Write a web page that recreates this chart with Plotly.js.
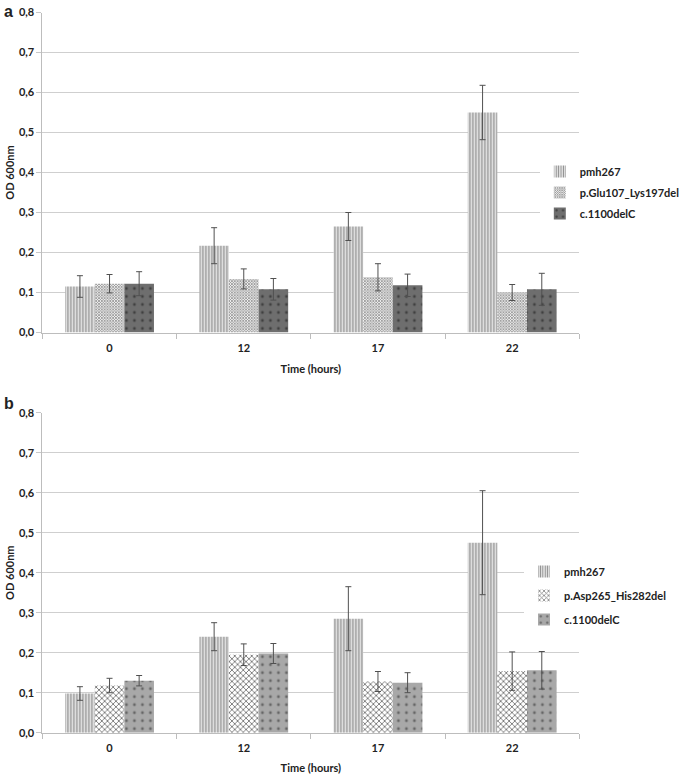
<!DOCTYPE html>
<html>
<head>
<meta charset="utf-8">
<script src="https://cdn.plot.ly/plotly-3.0.1.min.js"></script>
<style>html,body{margin:0;padding:0;background:#fff}#chart{width:685px;height:774px}</style>
</head>
<body>
<div id="chart"></div>
<script>
// ---- data ----
const times = ["0", "12", "17", "22"];

// panel a
const aPmh = [0.115, 0.217, 0.265, 0.550];
const aPmhErr = [0.027, 0.045, 0.035, 0.068];
const aGlu = [0.122, 0.134, 0.138, 0.100];
const aGluErr = [0.023, 0.025, 0.034, 0.020];
const aDel = [0.122, 0.108, 0.118, 0.108];
const aDelErr = [0.030, 0.027, 0.028, 0.040];

// panel b
const bPmh = [0.098, 0.240, 0.285, 0.475];
const bPmhErr = [0.017, 0.035, 0.080, 0.130];
const bAsp = [0.118, 0.195, 0.128, 0.154];
const bAspErr = [0.018, 0.027, 0.025, 0.048];
const bDel = [0.130, 0.198, 0.125, 0.156];
const bDelErr = [0.013, 0.025, 0.025, 0.047];

const namesA = ["pmh267", "p.Glu107_Lys197del", "c.1100delC"];
const namesB = ["pmh267", "p.Asp265_His282del", "c.1100delC"];

// ---- styles ----
const errStyle = {color: "#505050", thickness: 1, width: 3};
const pPmh = {shape: "|", fgcolor: "#8c8c8c", bgcolor: "#e6e6e6", size: 3, solidity: 0.4};
const pGlu = {shape: "x", fgcolor: "#8a8a8a", bgcolor: "#f2f2f2", size: 2, solidity: 0.6};
const pDelA = {shape: ".", fgcolor: "#404040", bgcolor: "#6e6e6e", size: 8, solidity: 0.1};
const pAsp = {shape: "x", fgcolor: "#777777", bgcolor: "#ffffff", size: 4, solidity: 0.4};
const pDelB = {shape: ".", fgcolor: "#666666", bgcolor: "#a8a8a8", size: 8, solidity: 0.1};

function bar(name, y, err, pat, xa, ya, leg, grp) {
  return {
    type: "bar", name: name, x: times, y: y,
    xaxis: xa, yaxis: ya, legend: leg, legendgroup: grp,
    error_y: Object.assign({type: "data", array: err, visible: true}, errStyle),
    marker: {color: pat.bgcolor, line: {width: 0}, pattern: pat}
  };
}

const data = [
  bar(namesA[0], aPmh, aPmhErr, pPmh, "x", "y", "legend", "a1"),
  bar(namesA[1], aGlu, aGluErr, pGlu, "x", "y", "legend", "a2"),
  bar(namesA[2], aDel, aDelErr, pDelA, "x", "y", "legend", "a3"),
  bar(namesB[0], bPmh, bPmhErr, pPmh, "x2", "y2", "legend2", "b1"),
  bar(namesB[1], bAsp, bAspErr, pAsp, "x2", "y2", "legend2", "b2"),
  bar(namesB[2], bDel, bDelErr, pDelB, "x2", "y2", "legend2", "b3")
];

const W = 685, H = 774;
const font = {family: "Lato, 'Open Sans', sans-serif", size: 11, color: "#222"};
const boldFont = Object.assign({}, font, {weight: "bold"});

function xAxis(anchor) {
  return {
    anchor: anchor, domain: [43 / W, 587 / W], type: "category",
    showline: true, linecolor: "#bdbdbd", linewidth: 1,
    ticks: "outside", tickson: "boundaries", ticklen: 5, tickcolor: "#bdbdbd",
    ticklabelstandoff: 5,
    showgrid: false, tickfont: boldFont, automargin: false,
    title: {text: "Time (hours)", font: boldFont, standoff: 12}
  };
}
function yAxis(anchor, d) {
  return {
    anchor: anchor, domain: d, range: [0, 0.8], dtick: 0.1, tickformat: ".1f",
    showline: true, linecolor: "#bdbdbd", linewidth: 1,
    ticks: "outside", ticklen: 5, tickcolor: "#c8c8c8",
    showgrid: true, gridcolor: "#cfcfcf", gridwidth: 1, zeroline: false,
    tickfont: boldFont, automargin: false,
    title: {text: "OD 600nm", font: boldFont, standoff: 2}
  };
}

const layout = {
  width: W, height: H,
  margin: {l: 0, r: 0, t: 0, b: 0},
  paper_bgcolor: "#fff", plot_bgcolor: "#fff",
  separators: ", ",
  font: font,
  barmode: "group", bargap: 0.338, bargroupgap: 0,
  xaxis: xAxis("y"),
  yaxis: yAxis("x", [(H - 332.5) / H, (H - 12.5) / H]),
  xaxis2: xAxis("y2"),
  yaxis2: yAxis("x2", [(H - 732.7) / H, (H - 412.7) / H]),
  legend: {x: 547 / W, y: 1 - 157 / H, xanchor: "left", yanchor: "top", traceorder: "grouped",
           bgcolor: "#fff", font: boldFont, itemwidth: 30, tracegroupgap: 2},
  legend2: {x: 531 / W, y: 1 - 557 / H, xanchor: "left", yanchor: "top", traceorder: "grouped",
            bgcolor: "#fff", font: boldFont, itemwidth: 30, tracegroupgap: 5},
  showlegend: true,
  annotations: [
    {text: "a", xref: "paper", yref: "paper", x: 2 / W, y: 1 - 1 / H, xanchor: "left", yanchor: "top",
     showarrow: false, font: {family: "Liberation Sans, Arial, sans-serif", size: 16, weight: "bold", color: "#222"}},
    {text: "b", xref: "paper", yref: "paper", x: 2 / W, y: 1 - 393 / H, xanchor: "left", yanchor: "top",
     showarrow: false, font: {family: "Liberation Sans, Arial, sans-serif", size: 16, weight: "bold", color: "#222"}}
  ]
};

Plotly.newPlot("chart", data, layout, {displayModeBar: false, responsive: false});
</script>
</body>
</html>
